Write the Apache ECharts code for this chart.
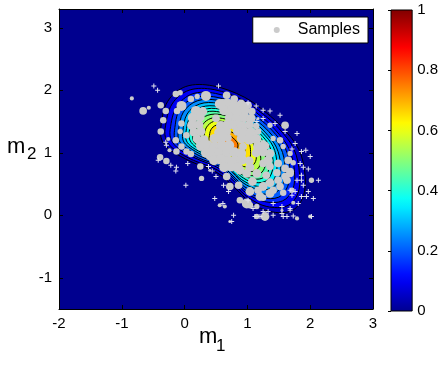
<!DOCTYPE html>
<html><head><meta charset="utf-8">
<script src="https://cdn.jsdelivr.net/npm/echarts@6/dist/echarts.min.js"></script>
<style>html,body{margin:0;padding:0;background:#fff;}#c{width:441px;height:366px;}</style>
</head><body><div id="c"></div>
<script>
const xTicks = [-2, -1, 0, 1, 2, 3];
const yTicks = [-1, 0, 1, 2, 3];
const cbTicks = [0, 0.2, 0.4, 0.6, 0.8, 1];
const cbRange = [0, 1];

const contourLevels = [0.05,0.10,0.15,0.20,0.25,0.30,0.35,0.40,0.45,0.50,0.55,0.60,0.65,0.70,0.75];
const contourRings = [
 [[-0.38,1.40],[-0.27,1.82],[0.02,2.06],[0.45,2.07],[0.95,1.89],[1.30,1.64],[1.56,1.40],[1.82,1.05],[1.92,0.62],[1.88,0.28],[1.70,0.07],[1.36,0.06],[1.04,0.21],[0.80,0.44],[0.52,0.68],[0.10,0.86],[-0.22,1.04],[-0.36,1.20]],
 [[-0.31,1.39],[-0.20,1.78],[0.07,2.00],[0.47,2.01],[0.93,1.84],[1.26,1.61],[1.50,1.39],[1.74,1.06],[1.83,0.66],[1.80,0.34],[1.63,0.15],[1.31,0.14],[1.02,0.28],[0.79,0.49],[0.53,0.72],[0.14,0.88],[-0.16,1.05],[-0.29,1.20]],
 [[-0.23,1.37],[-0.13,1.73],[0.12,1.94],[0.49,1.95],[0.92,1.79],[1.22,1.58],[1.44,1.37],[1.66,1.07],[1.75,0.70],[1.72,0.41],[1.56,0.23],[1.27,0.22],[0.99,0.35],[0.79,0.54],[0.55,0.75],[0.18,0.91],[-0.09,1.06],[-0.21,1.20]],
 [[-0.16,1.36],[-0.08,1.69],[0.16,1.88],[0.50,1.89],[0.90,1.75],[1.18,1.55],[1.39,1.36],[1.60,1.08],[1.68,0.73],[1.64,0.46],[1.50,0.29],[1.23,0.28],[0.97,0.40],[0.78,0.59],[0.56,0.78],[0.22,0.92],[-0.04,1.07],[-0.15,1.20]],
 [[-0.10,1.34],[-0.02,1.65],[0.20,1.83],[0.52,1.84],[0.89,1.71],[1.14,1.52],[1.34,1.34],[1.53,1.08],[1.60,0.77],[1.57,0.51],[1.44,0.36],[1.19,0.35],[0.95,0.46],[0.77,0.63],[0.57,0.81],[0.26,0.94],[0.02,1.08],[-0.09,1.20]],
 [[-0.03,1.33],[0.04,1.62],[0.24,1.78],[0.53,1.79],[0.87,1.66],[1.11,1.49],[1.28,1.33],[1.46,1.09],[1.53,0.80],[1.50,0.57],[1.38,0.43],[1.15,0.42],[0.93,0.52],[0.77,0.68],[0.58,0.84],[0.29,0.96],[0.07,1.09],[-0.02,1.19]],
 [[0.02,1.32],[0.09,1.58],[0.27,1.73],[0.54,1.74],[0.86,1.63],[1.08,1.47],[1.24,1.32],[1.41,1.10],[1.47,0.83],[1.44,0.61],[1.33,0.48],[1.12,0.47],[0.91,0.57],[0.76,0.71],[0.59,0.87],[0.32,0.98],[0.12,1.09],[0.03,1.19]],
 [[0.07,1.31],[0.14,1.55],[0.31,1.69],[0.55,1.70],[0.85,1.59],[1.05,1.45],[1.20,1.31],[1.35,1.11],[1.41,0.86],[1.38,0.66],[1.28,0.54],[1.08,0.53],[0.90,0.62],[0.76,0.75],[0.60,0.89],[0.35,0.99],[0.17,1.10],[0.09,1.19]],
 [[0.13,1.30],[0.19,1.52],[0.34,1.65],[0.57,1.65],[0.83,1.56],[1.02,1.42],[1.16,1.30],[1.29,1.11],[1.35,0.88],[1.33,0.70],[1.23,0.59],[1.05,0.59],[0.88,0.67],[0.75,0.79],[0.60,0.92],[0.38,1.01],[0.21,1.11],[0.14,1.19]],
 [[0.18,1.29],[0.23,1.49],[0.37,1.60],[0.58,1.61],[0.82,1.52],[0.99,1.40],[1.11,1.29],[1.24,1.12],[1.29,0.91],[1.27,0.75],[1.18,0.65],[1.02,0.64],[0.86,0.71],[0.75,0.83],[0.61,0.94],[0.41,1.03],[0.26,1.11],[0.19,1.19]],
 [[0.25,1.27],[0.29,1.45],[0.42,1.55],[0.60,1.55],[0.81,1.48],[0.95,1.37],[1.06,1.27],[1.17,1.13],[1.21,0.95],[1.20,0.80],[1.12,0.71],[0.98,0.71],[0.84,0.77],[0.74,0.87],[0.63,0.97],[0.45,1.05],[0.31,1.12],[0.26,1.19]],
 [[0.31,1.26],[0.35,1.41],[0.46,1.50],[0.61,1.50],[0.79,1.44],[0.92,1.35],[1.01,1.26],[1.10,1.13],[1.14,0.98],[1.13,0.86],[1.06,0.78],[0.94,0.78],[0.82,0.83],[0.74,0.91],[0.64,1.00],[0.48,1.07],[0.37,1.13],[0.32,1.19]],
 [[0.39,1.24],[0.42,1.37],[0.50,1.44],[0.63,1.44],[0.77,1.39],[0.87,1.31],[0.95,1.24],[1.03,1.14],[1.05,1.02],[1.04,0.92],[0.99,0.86],[0.89,0.86],[0.80,0.90],[0.73,0.97],[0.65,1.04],[0.53,1.09],[0.43,1.14],[0.39,1.19]],
 [[0.47,1.23],[0.50,1.31],[0.56,1.37],[0.65,1.37],[0.75,1.33],[0.83,1.28],[0.88,1.23],[0.94,1.15],[0.96,1.06],[0.95,0.99],[0.91,0.95],[0.84,0.95],[0.77,0.98],[0.72,1.03],[0.66,1.08],[0.57,1.11],[0.51,1.15],[0.48,1.18]],
 [[0.57,1.21],[0.58,1.26],[0.62,1.29],[0.67,1.29],[0.73,1.27],[0.77,1.24],[0.80,1.21],[0.84,1.16],[0.85,1.11],[0.84,1.07],[0.82,1.05],[0.78,1.05],[0.74,1.06],[0.71,1.09],[0.68,1.12],[0.63,1.14],[0.59,1.16],[0.57,1.18]]
];

// samples: [m1, m2, weight]
const samples = [
 [-0.84,1.87,2],[-0.66,1.67,5],[-0.57,1.72,2],[-0.38,1.76,4],[-0.30,1.67,4],[-0.34,1.52,4],[-0.38,1.34,4],
 [-0.26,1.22,2],[-0.14,1.20,4],[-0.05,1.10,4],[-0.13,1.02,4],[-0.24,1.04,2],[-0.39,0.93,4],[-0.29,0.87,4],
 [0.03,1.02,4],[0.10,0.98,4],[-0.14,1.94,4],[-0.07,1.96,3],[0.10,1.86,4],[0.20,1.90,3],[0.34,1.91,7],
 [-0.05,1.75,7],[-0.12,1.67,4],[-0.05,1.47,4],[-0.07,1.34,3],[0.03,1.28,4],[0.40,0.94,5],[0.25,0.78,4],
 [0.27,0.59,3],[0.40,0.72,1],[0.79,1.86,5],[0.96,1.63,4],[1.17,1.55,1],[1.36,1.44,3],[1.60,1.44,5],
 [1.52,1.20,4],[1.41,1.23,3],[1.57,1.10,3],[1.68,0.99,3],[1.25,1.16,3],[0.67,1.92,5],[0.61,1.80,5],
 [1.65,0.88,5],[1.73,0.84,3],[1.68,0.70,5],[1.60,0.62,5],[1.49,0.56,5],[1.36,0.52,6],[1.25,0.46,6],
 [1.17,0.40,5],[1.41,0.40,5],[1.57,0.36,4],[1.71,0.40,3],[1.73,0.20,2],[1.25,0.28,4],[1.15,0.14,3],
 [1.28,-0.02,6],[0.99,0.19,7],[0.88,0.24,4],[0.72,0.46,5],[0.67,0.62,5],[0.86,0.48,5],[1.04,0.38,6],
 [1.20,0.30,6],[1.36,0.35,6],[1.52,0.46,5],[1.63,0.56,5],[1.68,0.67,5],[1.60,0.75,5],[1.49,0.83,5],
 [1.36,0.78,5],[1.25,0.83,5],[1.15,0.67,6],[0.99,0.67,6],[0.88,0.72,6],[0.78,0.83,6],[1.55,0.08,1],
 [1.04,0.16,4],[1.15,-0.02,3],[1.79,-0.05,2],[2.00,-0.02,2],[0.56,0.16,2],[0.64,0.14,2],[0.72,-0.10,1],
 [2.02,0.56,3],[1.08,0.54,6],[1.30,0.64,5],[1.47,0.68,5],
 [0.56,1.78,7],[0.68,1.79,7],[0.79,1.77,6],[0.90,1.78,6],[1.01,1.76,5],
 [0.18,1.67,7],[0.29,1.66,6],[0.63,1.68,7],[0.74,1.66,7],[0.85,1.67,7],[0.96,1.68,6],[1.07,1.66,5],
 [0.13,1.56,7],[0.25,1.57,6],[0.50,1.55,5],[0.72,1.56,7],[0.83,1.55,7],[0.95,1.57,7],[1.06,1.55,6],
 [0.12,1.44,7],[0.23,1.45,6],[0.58,1.43,7],[0.69,1.45,7],[0.80,1.44,7],[0.91,1.43,7],[1.03,1.45,6],[1.14,1.43,4],
 [0.15,1.33,6],[0.26,1.34,6],[0.55,1.32,7],[0.66,1.34,7],[0.84,1.34,6],[0.95,1.33,7],[1.06,1.32,7],[1.17,1.34,4],
 [0.20,1.22,6],[0.31,1.21,6],[0.47,1.23,6],[0.58,1.22,7],[0.69,1.24,5],[0.91,1.23,7],[1.03,1.21,7],[1.14,1.22,7],
 [0.26,1.11,7],[0.37,1.12,7],[0.48,1.10,7],[0.60,1.11,7],[0.71,1.12,7],[0.93,1.10,5],[1.17,1.10,7],[1.28,1.11,6],
 [0.34,1.00,7],[0.45,1.01,7],[0.56,0.99,7],[0.68,1.00,7],[0.79,1.01,7],[0.90,0.99,7],[1.14,1.00,6],[1.25,1.01,6],[1.36,0.99,6],
 [0.47,0.88,7],[0.58,0.89,7],[0.69,0.87,7],[0.80,0.88,7],[0.91,0.89,7],[1.03,0.87,6],[1.33,0.88,6],
 [0.63,0.77,7],[0.74,0.78,7],[0.85,0.76,7],[1.04,0.77,6]
];

// other draws shown as small crosses
const crosses = [
 [-0.49,2.07],[-0.43,2.00],[-0.30,1.17],[-0.29,1.12],[0.54,2.07],[1.94,0.30],[2.05,0.27],[0.78,0.00],
 [1.63,-0.02],[0.48,0.27],[1.01,1.80],[1.14,1.75],[1.25,1.68],[1.36,1.67],[1.52,1.60],[1.25,1.55],
 [1.15,1.50],[1.44,1.47],[1.79,1.31],[1.76,1.15],[1.86,1.02],[1.93,1.04],[1.71,1.06],[2.00,0.94],
 [1.60,1.34],[-0.42,0.88],[-0.22,0.80],[-0.13,0.77],[-0.14,0.71],[0.05,0.83],[0.02,0.48],[0.38,0.78],
 [0.44,0.71],[0.50,0.62],[1.89,0.77],[1.97,0.74],[2.13,0.56],[1.97,0.38],[0.62,0.48],[0.70,0.38],
 [0.61,0.19],[0.75,-0.10],[1.09,0.11],[1.20,-0.02],[1.41,0.00],[1.55,0.03],[1.68,0.08],[1.73,-0.01],
 [2.02,-0.02],[1.71,0.32],[1.86,0.56],[1.01,0.24],[1.41,0.19],[1.84,0.83],[1.86,0.64],[1.79,0.56],
 [1.89,0.48],[1.68,0.40],[1.76,0.38],[1.81,0.19],[1.68,0.11],[1.55,0.14],[1.33,0.06],[1.25,0.06],
 [1.12,-0.02],[1.57,-0.02],[1.86,0.30]
];

function jetRGB(t) {
  const u = t * 63 / 64 + 1 / 64;
  const cl = v => Math.max(0, Math.min(1, v));
  const r = cl(Math.min(4 * u - 1.5, -4 * u + 4.5));
  const g = cl(Math.min(4 * u - 0.5, -4 * u + 3.5));
  const b = cl(Math.min(4 * u + 0.5, -4 * u + 2.5));
  return 'rgb(' + Math.round(r * 255) + ',' + Math.round(g * 255) + ',' + Math.round(b * 255) + ')';
}
const jetStops = [];
for (let i = 0; i <= 32; i++) jetStops.push({ offset: i / 32, color: jetRGB(i / 32) });

const FONT = '"Liberation Sans", Arial, Helvetica, sans-serif';
const chart = echarts.init(document.getElementById('c'));

function boxAxis(extra) {
  return Object.assign({
    type: 'value', gridIndex: 0,
    axisLine: { show: true, onZero: false, lineStyle: { color: '#000', width: 1 } },
    axisTick: { show: true, inside: true, length: 4, lineStyle: { color: '#000' } },
    axisLabel: { show: false },
    splitLine: { show: false }
  }, extra);
}

chart.setOption({
  animation: false,
  backgroundColor: '#fff',
  grid: [
    { left: 59, top: 9, width: 314, height: 300, show: true, backgroundColor: jetRGB(0), borderWidth: 0 },
    { left: 391, top: 10, width: 22, height: 301, show: false }
  ],
  xAxis: [
    boxAxis({ min: xTicks[0], max: xTicks[xTicks.length - 1], interval: 1, position: 'bottom',
      axisLabel: { show: true, color: '#000', fontSize: 15, fontFamily: FONT, margin: 7, customValues: xTicks },
      axisTick: { show: true, inside: true, length: 4, lineStyle: { color: '#000' }, customValues: xTicks } }),
    boxAxis({ min: xTicks[0], max: xTicks[xTicks.length - 1], interval: 1, position: 'top',
      axisTick: { show: true, inside: true, length: 4, lineStyle: { color: '#000' }, customValues: xTicks } }),
    { type: 'value', gridIndex: 1, min: 0, max: 1, show: false }
  ],
  yAxis: [
    boxAxis({ min: -1.5, max: 3.3, position: 'left',
      axisLabel: { show: true, color: '#000', fontSize: 15, fontFamily: FONT, margin: 7, customValues: yTicks },
      axisTick: { show: true, inside: true, length: 4, lineStyle: { color: '#000' }, customValues: yTicks } }),
    boxAxis({ min: -1.5, max: 3.3, position: 'right',
      axisTick: { show: true, inside: true, length: 4, lineStyle: { color: '#000' }, customValues: yTicks } }),
    { type: 'value', gridIndex: 1, min: cbRange[0], max: cbRange[1], interval: 0.2, position: 'right',
      axisLine: { show: false },
      axisTick: { show: true, inside: true, length: 3, lineStyle: { color: '#000' }, customValues: cbTicks },
      axisLabel: { show: true, color: '#000', fontSize: 15, fontFamily: FONT, margin: 5, customValues: cbTicks },
      splitLine: { show: false } }
  ],
  legend: {
    data: ['Samples'], top: 17, right: 73, icon: 'circle',
    itemWidth: 32, itemHeight: 6, itemGap: 0,
    padding: [5, 8, 5, 21], backgroundColor: '#fff', borderColor: '#000', borderWidth: 1, borderRadius: 0,
    textStyle: { fontSize: 16, color: '#000', fontFamily: FONT }
  },
  visualMap: [{
    type: 'continuous', show: false, seriesIndex: 1, dimension: 2, min: 1, max: 7,
    inRange: { symbolSize: [3, 10] }
  }],
  series: [
    {
      type: 'custom', name: 'density', xAxisIndex: 0, yAxisIndex: 0, silent: true, z: 1,
      data: contourLevels.map((l, i) => [i, l]),
      encode: { x: -1, y: -1 },
      renderItem: function (params, api) {
        const i = params.dataIndex;
        const pts = contourRings[i].map(p => api.coord(p));
        return { type: 'polygon', shape: { points: pts, smooth: 0.35 },
          style: { fill: jetRGB(contourLevels[i]), stroke: '#000', lineWidth: 1 } };
      }
    },
    {
      type: 'scatter', name: 'Samples', xAxisIndex: 0, yAxisIndex: 0, z: 3, symbol: 'circle',
      data: samples, itemStyle: { color: '#cbcbcb', opacity: 1 }, silent: true
    },
    {
      type: 'scatter', name: 'draws', xAxisIndex: 0, yAxisIndex: 0, z: 4,
      symbol: 'path://M2,0H3V2H5V3H3V5H2V3H0V2H2Z', symbolSize: 5,
      data: crosses, itemStyle: { color: '#e2e2ee', opacity: 1 }, silent: true
    },
    {
      type: 'custom', name: 'colorbar', xAxisIndex: 2, yAxisIndex: 2, silent: true,
      data: [[0, cbRange[0]]],
      encode: { x: -1, y: -1 },
      renderItem: function (params, api) {
        const p0 = api.coord([0, cbRange[0]]);
        const p1 = api.coord([1, cbRange[1]]);
        return { type: 'rect',
          shape: { x: p0[0], y: p1[1], width: p1[0] - p0[0], height: p0[1] - p1[1] },
          style: { fill: new echarts.graphic.LinearGradient(0, 1, 0, 0, jetStops), stroke: '#000', lineWidth: 1 } };
      }
    }
  ],
  graphic: [
    { type: 'text', x: 199, y: 337, style: { text: 'm', fontSize: 22, fontFamily: FONT, fill: '#000', align: 'left', verticalAlign: 'middle' } },
    { type: 'text', x: 216, y: 346, style: { text: '1', fontSize: 17, fontFamily: FONT, fill: '#000', align: 'left', verticalAlign: 'middle' } },
    { type: 'text', x: 7, y: 147, style: { text: 'm', fontSize: 22, fontFamily: FONT, fill: '#000', align: 'left', verticalAlign: 'middle' } },
    { type: 'text', x: 27, y: 154, style: { text: '2', fontSize: 17, fontFamily: FONT, fill: '#000', align: 'left', verticalAlign: 'middle' } }
  ]
});
</script>
</body></html>
